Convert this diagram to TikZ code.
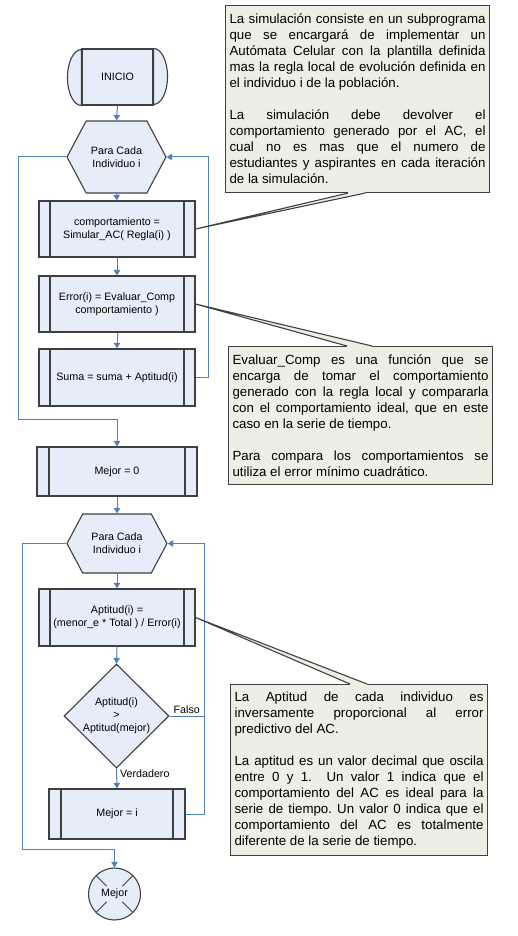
\documentclass[tikz,border=0pt]{standalone}
\usepackage{fontspec}
\setmainfont{Liberation Sans}
\usetikzlibrary{arrows.meta,shapes.geometric,shapes.symbols}

\definecolor{boxfill}{RGB}{230,237,248}
\definecolor{boxline}{RGB}{64,64,64}
\definecolor{flowblue}{RGB}{79,129,189}
\definecolor{notefill}{RGB}{238,238,228}

\tikzset{
  box/.style={draw=boxline, fill=boxfill, line width=1.1pt,
    font=\fontsize{10.7}{13}\selectfont, align=center, inner sep=0pt},
  proc/.style={box, rectangle, path picture={
      \draw[boxline, line width=1.1pt]
        ([xshift=#1]path picture bounding box.north west) -- ([xshift=#1]path picture bounding box.south west)
        ([xshift=-#1]path picture bounding box.north east) -- ([xshift=-#1]path picture bounding box.south east);}},
  proc/.default=11pt,
  hexa/.style={box, signal, signal to=west and east, signal pointer angle=124},
  decision/.style={box, diamond, aspect=1},
  endcircle/.style={box, circle, path picture={
      \foreach \a in {45,135,225,315}
        \draw[boxline, line width=1pt] (path picture bounding box.center) ++(\a:11pt) -- ++(\a:20pt);}},
  flow/.style={draw=flowblue, line width=1pt, -{Triangle[length=5.5pt,width=6.5pt]}},
  flowline/.style={draw=flowblue, line width=1pt},
  lbl/.style={font=\fontsize{10.7}{13}\selectfont, inner sep=2pt},
  note/.style={draw=boxline, fill=notefill, line width=1.1pt, anchor=north west,
    font={\fontsize{13.3}{16}\selectfont\hyphenpenalty=10000\relax\exhyphenpenalty=10000\relax\frenchspacing},
    align=justify, inner xsep=4pt, inner ysep=0pt},
  wedge/.style={draw=boxline, line width=1.1pt}
}

\begin{document}
\begin{tikzpicture}[x=1pt, y=-1pt]
  \useasboundingbox (0,0) rectangle (518,936);

  % Start
  \node[box, rectangle, minimum width=71pt, minimum height=56pt] (inicio) at (117.5,77) {INICIO};
  \filldraw[fill=boxfill, draw=boxline, line width=1.1pt]
    (inicio.north east) arc[start angle=90, end angle=-90, x radius=14pt, y radius=28pt] -- cycle
    (inicio.south west) arc[start angle=270, end angle=90, x radius=14pt, y radius=28pt] -- cycle;

  % First loop
  \node[hexa, minimum width=99pt, minimum height=72pt] (hexA) at (116.5,157) {Para Cada\\Individuo i};
  \node[proc, minimum width=156pt, minimum height=56pt] (simular) at (117,229)
    {comportamiento =\\Simular\_AC( Regla(i) )};
  \node[proc, minimum width=156pt, minimum height=56pt] (evaluar) at (117,304)
    {Error(i) = Evaluar\_Comp\\comportamiento )};
  \node[proc, minimum width=156pt, minimum height=57pt] (suma) at (117,377.5)
    {Suma = suma + Aptitud(i)};
  \coordinate (skipA) at (18,419);

  % Best so far
  \node[proc=12pt, minimum width=160pt, minimum height=49pt] (mejorcero) at (117,471.5) {Mejor = 0};

  % Second loop
  \node[hexa, minimum width=100pt, minimum height=59pt] (hexB) at (117,543.5) {Para Cada\\Individuo i};
  \node[proc, minimum width=156pt, minimum height=57pt] (aptitud) at (117,617.5)
    {Aptitud(i) =\\(menor\_e * Total ) / Error(i)};
  \node[decision, minimum width=105pt, minimum height=104pt] (compara) at (116.5,716)
    {Aptitud(i)\\>\\Aptitud(mejor)};
  \node[proc=12pt, minimum width=136pt, minimum height=50pt] (mejori) at (117,814) {Mejor = i};
  \coordinate (backB) at (204,814);
  \coordinate (skipB) at (22,849);

  % End
  \node[endcircle, minimum size=52pt] (fin) at (114.5,894) {Mejor};

  % Connectors
  \draw[flow] (inicio.south) -- (hexA.north);
  \draw[flow] (hexA.south) -- (simular.north);
  \draw[flow] (simular.south) -- (evaluar.north);
  \draw[flow] (evaluar.south) -- (suma.north);
  \draw[flow] (suma.east) -- ++(13,0) |- (hexA.east);
  \draw[flow] (hexA.west) -| (skipA) -| (mejorcero.north);
  \draw[flow] (mejorcero.south) -- (hexB.north);
  \draw[flow] (hexB.south) -- (aptitud.north);
  \draw[flow] (aptitud.south) -- (compara.north);
  \draw[flow] (compara.south) -- node[lbl, pos=0.25, right, xshift=1pt] {Verdadero} (mejori.north);
  \draw[flowline] (compara.east) -- node[lbl, above] {Falso} (compara.east -| backB);
  \draw[flow] (mejori.east) -- (backB) |- (hexB.east);
  \draw[flow] (hexB.west) -| (skipB) -| (fin.north);

  % Note on the simulation
  \node[note, text width=256pt, minimum height=187pt] (notasim) at (225,5) {%
    La simulación consiste en un subprograma\linebreak
    que se encargará de implementar un\linebreak
    Autómata Celular con la plantilla definida\linebreak
    mas la regla local de evolución definida en\linebreak
    el individuo i de la población.\par\vspace{16pt}
    La simulación debe devolver el\linebreak
    comportamiento generado por el AC, el\linebreak
    cual no es mas que el numero de\linebreak
    estudiantes y aspirantes en cada iteración\linebreak
    de la simulación.};
  \fill[notefill] ([xshift=123pt]notasim.south west) -- (simular.east) -- ([xshift=140pt]notasim.south west)
    -- ([xshift=140pt, yshift=1.5pt]notasim.south west) -- ([xshift=123pt, yshift=1.5pt]notasim.south west) -- cycle;
  \draw[wedge] ([xshift=123pt]notasim.south west) -- (simular.east) -- ([xshift=140pt]notasim.south west);

  % Note on the evaluation
  \node[note, text width=256pt, minimum height=138pt] (notaeval) at (228,346) {%
    Evaluar\_Comp es una función que se\linebreak
    encarga de tomar el comportamiento\linebreak
    generado con la regla local y compararla\linebreak
    con el comportamiento ideal, que en este\linebreak
    caso en la serie de tiempo.\par\vspace{16pt}
    Para compara los comportamientos se\linebreak
    utiliza el error mínimo cuadrático.};
  \fill[notefill] ([xshift=119pt]notaeval.north west) -- (evaluar.east) -- ([xshift=144pt]notaeval.north west)
    -- ([xshift=144pt, yshift=-1.5pt]notaeval.north west) -- ([xshift=119pt, yshift=-1.5pt]notaeval.north west) -- cycle;
  \draw[wedge] ([xshift=119pt]notaeval.north west) -- (evaluar.east) -- ([xshift=144pt]notaeval.north west);

  % Note on the fitness
  \node[note, text width=249pt, minimum height=171pt] (notaapt) at (230,684) {%
    La Aptitud de cada individuo es\linebreak
    inversamente proporcional al error\linebreak
    predictivo del AC.\par\vspace{16pt}
    La aptitud es un valor decimal que oscila\linebreak
    entre 0 y 1.\ \ Un valor 1 indica que el\linebreak
    comportamiento del AC es ideal para la\linebreak
    serie de tiempo. Un valor 0 indica que el\linebreak
    comportamiento del AC es totalmente\linebreak
    diferente de la serie de tiempo.};
  \fill[notefill] ([xshift=120pt]notaapt.north west) -- (aptitud.east) -- ([xshift=137pt]notaapt.north west)
    -- ([xshift=137pt, yshift=-1.5pt]notaapt.north west) -- ([xshift=120pt, yshift=-1.5pt]notaapt.north west) -- cycle;
  \draw[wedge] ([xshift=120pt]notaapt.north west) -- (aptitud.east) -- ([xshift=137pt]notaapt.north west);
\end{tikzpicture}
\end{document}
